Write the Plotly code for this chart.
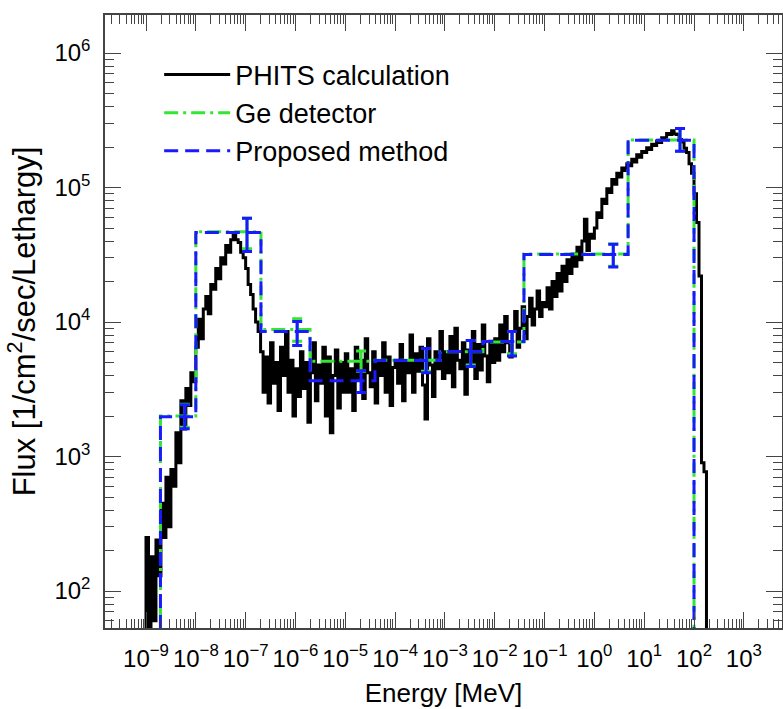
import numpy as np
import plotly.graph_objects as go

# ---------------- data ----------------
# PHITS calculation: log-spaced histogram, 20 bins per decade starting at 1e-9 MeV
phits_log_start = -9.0
phits_bins_per_decade = 20
phits_d1 = [250, 30, 180, 60, 240, 130, 450, 250, 700, 300, 800, 600, 1500, 900, 2600, 1600, 3200, 2400, 4200, 3600]
phits_d2 = [6500, 10500, 7500, 12500, 15500, 11500, 19000, 17500, 25000, 21000, 30000, 27000, 37000, 33000, 41000, 44000, 41000, 39000, 33000, 30000]
phits_d3 = [25000, 19000, 16000, 12500, 10000, 8500, 6000, 3000, 5500, 2500, 7000, 3500, 5000, 2200, 6500, 4000, 8500, 3000, 5200, 2000]
phits_d4 = [4500, 2800, 6000, 3200, 5000, 1800, 4200, 7000, 2600, 4800, 3500, 6500, 2000, 5500, 1500, 4000, 6200, 2300, 5000, 3000]
phits_d5 = [5800, 3000, 4500, 2200, 6500, 3800, 5200, 2700, 7500, 4200, 3300, 6000, 2500, 5000, 4000, 7000, 3000, 5500, 2400, 4600]
phits_d6 = [5200, 3500, 6800, 2600, 5000, 4200, 8000, 3000, 5800, 4300, 6500, 3400, 1900, 7500, 4800, 2800, 6000, 4500, 8500, 3800]
phits_d7 = [6000, 4200, 7800, 3300, 9000, 5200, 4500, 7000, 2900, 6200, 5000, 8500, 3800, 6800, 4400, 9500, 5600, 3600, 7200, 5000]
phits_d8 = [7500, 5200, 9500, 6000, 11000, 7000, 5500, 8500, 12000, 6500, 9000, 13000, 7500, 11000, 15000, 9500, 12500, 17000, 11000, 14000]
phits_d9 = [13000, 18000, 12500, 20000, 15500, 23000, 17000, 26000, 20000, 29000, 23000, 32000, 26000, 36000, 29000, 40000, 58000, 34000, 45000, 42000]
phits_d10 = [50000, 65000, 60000, 82000, 76000, 98000, 92000, 115000, 106000, 128000, 120000, 140000, 134000, 150000, 145000, 162000, 155000, 175000, 168000, 185000]
phits_d11 = [182000, 198000, 192000, 210000, 205000, 222000, 216000, 235000, 230000, 252000, 248000, 265000, 250000, 248000, 228000, 218000, 196000, 182000, 150000, 128000]
phits_d12 = [90000, 55000, 22000, 900, 770]

# Unfolded spectra (9 energy bins)
unfold_edges = [1.95e-9, 1.0e-8, 2.03e-7, 1.96e-6, 3.95e-5, 7.96e-4, 5.8e-3, 3.86e-2, 4.75, 100.0]
ge_flux = [2.0e3, 4.7e4, 8.8e3, 5.1e3, 5.2e3, 6.0e3, 7.1e3, 3.2e4, 2.26e5]
ge_upper = [2.45e3, 5.9e4, 1.06e4, 6.1e3, 6.35e3, 7.3e3, 8.5e3, 3.8e4, 2.75e5]
ge_lower = [1.65e3, 3.5e4, 7.2e3, 4.3e3, 4.3e3, 4.8e3, 5.8e3, 2.6e4, 1.86e5]
prop_flux = [1.98e3, 4.64e4, 8.5e3, 3.66e3, 5.17e3, 6.03e3, 7.16e3, 3.18e4, 2.25e5]
prop_upper = [2.43e3, 5.9e4, 1.01e4, 4.35e3, 6.35e3, 7.3e3, 8.5e3, 3.78e4, 2.75e5]
prop_lower = [1.61e3, 3.35e4, 6.7e3, 2.99e3, 4.2e3, 4.68e3, 5.6e3, 2.57e4, 1.86e5]

x_tick_exps = list(range(-9, 4))
y_tick_exps = [2, 3, 4, 5, 6]

series_names = ["PHITS calculation", "Ge detector", "Proposed method"]

# ---------------- helpers ----------------
FLOOR = 1.0


def steps(edges, vals):
    xs = [edges[0]]
    ys = [FLOOR]
    for i, v in enumerate(vals):
        xs += [edges[i], edges[i + 1]]
        ys += [v, v]
    xs.append(edges[-1])
    ys.append(FLOOR)
    return xs, ys


phits_flux = (phits_d1 + phits_d2 + phits_d3 + phits_d4 + phits_d5 + phits_d6 +
              phits_d7 + phits_d8 + phits_d9 + phits_d10 + phits_d11 + phits_d12)
n_ph = len(phits_flux)
phits_edges = list(10 ** (phits_log_start + np.arange(n_ph + 1) / phits_bins_per_decade))

centers = [(unfold_edges[i] + unfold_edges[i + 1]) / 2 for i in range(len(unfold_edges) - 1)]

GREEN = "#33e633"
BLUE = "#1a1aff"
FONT = "Liberation Sans, Arial, Helvetica, sans-serif"
AXC = "#444444"

fig = go.Figure()

px_, py_ = steps(phits_edges, phits_flux)
fig.add_trace(go.Scatter(x=px_, y=py_, mode="lines", name=series_names[0],
                         line=dict(color="black", width=3)))

gx, gy = steps(unfold_edges, ge_flux)
fig.add_trace(go.Scatter(x=gx, y=gy, mode="lines", name=series_names[1],
                         line=dict(color=GREEN, width=3, dash="14px,5px,3px,5px")))
fig.add_trace(go.Scatter(x=centers, y=ge_flux, mode="markers", showlegend=False,
                         marker=dict(size=1, color="rgba(0,0,0,0)"),
                         error_y=dict(type="data", symmetric=False,
                                      array=[u - v for u, v in zip(ge_upper, ge_flux)],
                                      arrayminus=[v - l for v, l in zip(ge_flux, ge_lower)],
                                      color=GREEN, thickness=3, width=5)))

bx, by = steps(unfold_edges, prop_flux)
fig.add_trace(go.Scatter(x=bx, y=by, mode="lines", name=series_names[2],
                         line=dict(color=BLUE, width=3, dash="14px,7px")))
fig.add_trace(go.Scatter(x=centers, y=prop_flux, mode="markers", showlegend=False,
                         marker=dict(size=1, color="rgba(0,0,0,0)"),
                         error_y=dict(type="data", symmetric=False,
                                      array=[u - v for u, v in zip(prop_upper, prop_flux)],
                                      arrayminus=[v - l for v, l in zip(prop_flux, prop_lower)],
                                      color=BLUE, thickness=3, width=5)))


def sup_label(p):
    return "10<sup>" + ("\u2212" if p < 0 else "") + str(abs(p)) + "</sup>"


x_minor = [m * 10.0 ** p for p in range(-10, 4) for m in range(2, 10)]
y_minor = [m * 10.0 ** p for p in range(1, 7) for m in range(2, 10)]

fig.update_xaxes(type="log", range=[-9.823, 3.766],
                 tickmode="array", tickvals=[10.0 ** p for p in x_tick_exps],
                 ticktext=[sup_label(p) for p in x_tick_exps],
                 tickangle=0,
                 ticks="inside", ticklen=16, tickwidth=1.2, tickcolor=AXC,
                 minor=dict(tickmode="array", tickvals=x_minor, ticks="inside",
                            ticklen=9, tickwidth=1, tickcolor=AXC, showgrid=False),
                 showline=True, linecolor=AXC, linewidth=1.5, mirror="allticks",
                 showgrid=False, zeroline=False,
                 tickfont=dict(family=FONT, size=24, color="black"),
                 ticklabelstandoff=8,
                 title=dict(text="Energy [MeV]", font=dict(family=FONT, size=26, color="black"),
                            standoff=13))
fig.update_yaxes(type="log", range=[1.725, 6.283],
                 tickmode="array", tickvals=[10.0 ** p for p in y_tick_exps],
                 ticktext=[sup_label(p) for p in y_tick_exps],
                 ticks="inside", ticklen=16, tickwidth=1.2, tickcolor=AXC,
                 minor=dict(tickmode="array", tickvals=y_minor, ticks="inside",
                            ticklen=9, tickwidth=1, tickcolor=AXC, showgrid=False),
                 showline=True, linecolor=AXC, linewidth=1.5, mirror="allticks",
                 showgrid=False, zeroline=False,
                 tickfont=dict(family=FONT, size=24, color="black"),
                 ticklabelstandoff=8,
                 title=dict(text="Flux [1/cm<sup>2</sup>/sec/Lethargy]",
                            font=dict(family=FONT, size=31, color="black"), standoff=10))

fig.update_layout(
    width=783, height=709,
    margin=dict(l=105, r=1, t=15, b=81, autoexpand=False),
    paper_bgcolor="white", plot_bgcolor="white",
    font=dict(family=FONT, color="black"),
    legend=dict(x=0.08, y=0.942, xanchor="left", yanchor="top",
                bgcolor="rgba(0,0,0,0)", borderwidth=0,
                font=dict(family=FONT, size=27, color="black"),
                itemwidth=66, tracegroupgap=0),
)

fig.write_html("out.html")
